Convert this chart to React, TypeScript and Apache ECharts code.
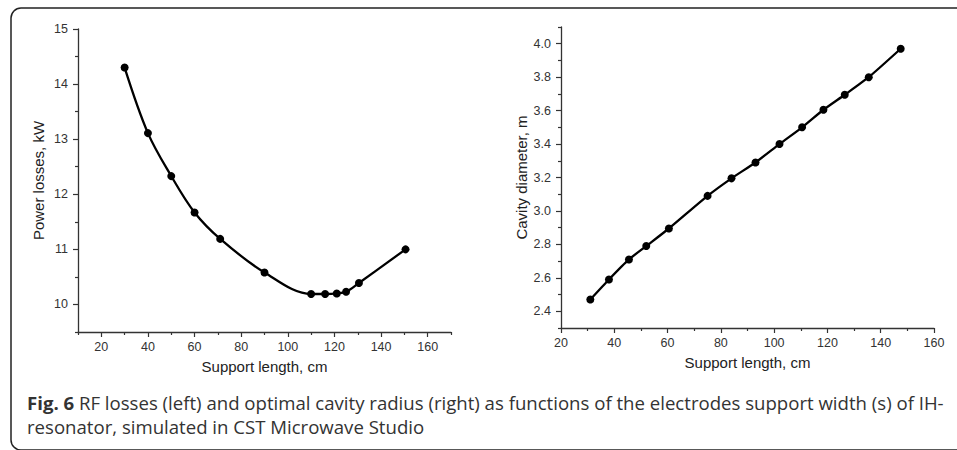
import React, { useEffect, useRef } from "react";
import * as echarts from "echarts";

// Left panel: power losses vs support length
const lossX = [30, 40, 50, 60, 71, 90, 110, 116, 121, 125, 130.5, 150.5];
const lossY = [14.3, 13.11, 12.33, 11.67, 11.19, 10.58, 10.19, 10.19, 10.2, 10.23, 10.39, 11.0];
// Right panel: cavity diameter vs support length
const diamX = [31, 38, 45.5, 52, 60.5, 75, 84, 93, 102, 110.5, 118.5, 126.5, 135.5, 147.5];
const diamY = [2.47, 2.59, 2.71, 2.79, 2.895, 3.09, 3.195, 3.29, 3.4, 3.5, 3.605, 3.695, 3.8, 3.97];

// Ticks
const leftXMajor = [20, 40, 60, 80, 100, 120, 140, 160];
const leftXMinor = [10, 30, 50, 70, 90, 110, 130, 150, 170];
const leftYMajor = [10, 11, 12, 13, 14, 15];
const leftYMinor = [9.5, 10.5, 11.5, 12.5, 13.5, 14.5];
const rightXMajor = [20, 40, 60, 80, 100, 120, 140, 160];
const rightXMinor = [30, 50, 70, 90, 110, 130, 150];
const rightYMajor = [2.4, 2.6, 2.8, 3.0, 3.2, 3.4, 3.6, 3.8, 4.0];
const rightYMinor = [2.3, 2.5, 2.7, 2.9, 3.1, 3.3, 3.5, 3.7, 3.9, 4.1];

const captionLine1 = "RF losses (left) and optimal cavity radius (right) as functions of the electrodes support width (s) of IH-";
const captionLine2 = "resonator, simulated in CST Microwave Studio";

const AX = "#333";
const FONT = "Liberation Sans";

function mainAxis(gridIndex: number, min: number, max: number, major: number[], name: string, isY: boolean, fmt?: (v: number) => string) {
  return {
    type: "value",
    gridIndex,
    position: isY ? "left" : "bottom",
    min,
    max,
    name,
    nameLocation: "middle",
    nameGap: isY ? 32 : 27,
    nameTextStyle: { fontFamily: FONT, fontSize: 15, color: "#222" },
    axisLine: { show: true, onZero: false, lineStyle: { color: AX, width: 1.3 } },
    axisTick: { show: true, customValues: major, length: 5, inside: false, lineStyle: { color: AX, width: 1.2 } },
    axisLabel: {
      show: true,
      customValues: major,
      margin: isY ? 10 : 8,
      fontFamily: FONT,
      fontSize: 12.5,
      color: "#333",
      formatter: fmt ? (v: number) => fmt(v) : (v: number) => String(v),
    },
    splitLine: { show: false },
  };
}

function minorAxis(gridIndex: number, min: number, max: number, minor: number[], isY: boolean) {
  return {
    type: "value",
    gridIndex,
    position: isY ? "left" : "bottom",
    min,
    max,
    axisLine: { show: false, onZero: false },
    axisTick: { show: true, customValues: minor, length: 3, inside: false, lineStyle: { color: AX, width: 1.2 } },
    axisLabel: { show: false },
    splitLine: { show: false },
  };
}

export default function App() {
  const ref = useRef<HTMLDivElement>(null);
  useEffect(() => {
    if (!ref.current) return;
    const chart = echarts.init(ref.current, null, { renderer: "svg" });
    const option: any = {
      animation: false,
      backgroundColor: "#fff",
      grid: [
        { left: 78, top: 29, width: 373, height: 303 },
        { left: 561, top: 27, width: 373, height: 301 },
      ],
      xAxis: [
        mainAxis(0, 10, 170, leftXMajor, "Support length, cm", false),
        minorAxis(0, 10, 170, leftXMinor, false),
        mainAxis(1, 20, 160, rightXMajor, "Support length, cm", false),
        minorAxis(1, 20, 160, rightXMinor, false),
      ],
      yAxis: [
        mainAxis(0, 9.5, 15, leftYMajor, "Power losses, kW", true),
        minorAxis(0, 9.5, 15, leftYMinor, true),
        mainAxis(1, 2.3, 4.1, rightYMajor, "Cavity diameter, m", true, (v: number) => v.toFixed(1)),
        minorAxis(1, 2.3, 4.1, rightYMinor, true),
      ],
      series: [
        {
          type: "line",
          xAxisIndex: 0,
          yAxisIndex: 0,
          data: lossX.map((x, i) => [x, lossY[i]]),
          smooth: 0.35,
          symbol: "circle",
          symbolSize: 8,
          itemStyle: { color: "#000" },
          lineStyle: { color: "#000", width: 2.3 },
        },
        {
          type: "line",
          xAxisIndex: 2,
          yAxisIndex: 2,
          data: diamX.map((x, i) => [x, diamY[i]]),
          smooth: 0.2,
          symbol: "circle",
          symbolSize: 8,
          itemStyle: { color: "#000" },
          lineStyle: { color: "#000", width: 2.3 },
        },
      ],
      graphic: [
        {
          type: "rect",
          shape: { x: 11, y: 8, width: 970, height: 442, r: 10 },
          style: { fill: "none", stroke: "#222", lineWidth: 1.5 },
          silent: true,
        },
        {
          type: "text",
          left: 27,
          top: 393,
          style: {
            text: "{b|Fig. 6} " + captionLine1,
            fontFamily: "Open Sans",
            fontSize: 18.6,
            fill: "#333",
            rich: {
              b: { fontFamily: "Open Sans", fontSize: 18.6, fontWeight: "bold", fill: "#333" },
            },
          },
        },
        {
          type: "text",
          left: 27,
          top: 417,
          style: {
            text: captionLine2,
            fontFamily: "Open Sans",
            fontSize: 18.6,
            fill: "#333",
          },
        },
      ],
    };
    chart.setOption(option);
    return () => chart.dispose();
  }, []);
  return <div ref={ref} style={{ position: "fixed", left: 0, top: 0, width: 957, height: 450 }} />;
}
